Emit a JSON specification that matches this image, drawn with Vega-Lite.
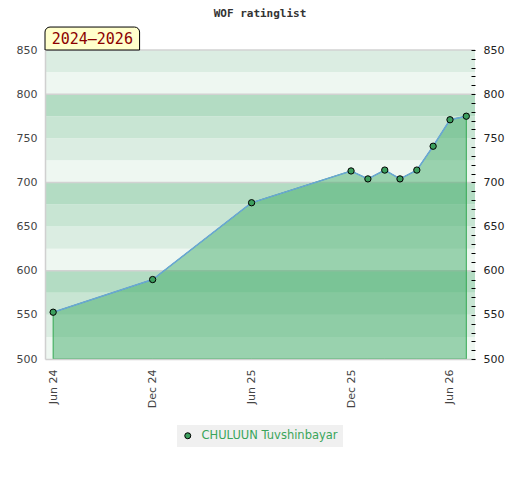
{
  "$schema": "https://vega.github.io/schema/vega-lite/v6.json",
  "width": 430,
  "height": 309,
  "autosize": {"type": "none"},
  "padding": {"left": 45, "top": 50, "right": 45, "bottom": 121},
  "title": {
    "text": "WOF ratinglist",
    "font": "DejaVu Sans Mono",
    "fontSize": 11,
    "fontWeight": "bold",
    "color": "#333333",
    "offset": 8
  },
  "datasets": {
    "ratings": [
      {"date": "2024-06-01", "rating": 553, "player": "CHULUUN Tuvshinbayar"},
      {"date": "2024-12-01", "rating": 590, "player": "CHULUUN Tuvshinbayar"},
      {"date": "2025-06-01", "rating": 677, "player": "CHULUUN Tuvshinbayar"},
      {"date": "2025-12-01", "rating": 713, "player": "CHULUUN Tuvshinbayar"},
      {"date": "2026-01-01", "rating": 704, "player": "CHULUUN Tuvshinbayar"},
      {"date": "2026-02-01", "rating": 714, "player": "CHULUUN Tuvshinbayar"},
      {"date": "2026-03-01", "rating": 704, "player": "CHULUUN Tuvshinbayar"},
      {"date": "2026-04-01", "rating": 714, "player": "CHULUUN Tuvshinbayar"},
      {"date": "2026-05-01", "rating": 741, "player": "CHULUUN Tuvshinbayar"},
      {"date": "2026-06-01", "rating": 771, "player": "CHULUUN Tuvshinbayar"},
      {"date": "2026-07-01", "rating": 775, "player": "CHULUUN Tuvshinbayar"}
    ],
    "bands": [
      {"lo": 500, "hi": 525, "shade": 0},
      {"lo": 525, "hi": 550, "shade": 1},
      {"lo": 550, "hi": 575, "shade": 2},
      {"lo": 575, "hi": 600, "shade": 3},
      {"lo": 600, "hi": 625, "shade": 0},
      {"lo": 625, "hi": 650, "shade": 1},
      {"lo": 650, "hi": 675, "shade": 2},
      {"lo": 675, "hi": 700, "shade": 3},
      {"lo": 700, "hi": 725, "shade": 0},
      {"lo": 725, "hi": 750, "shade": 1},
      {"lo": 750, "hi": 775, "shade": 2},
      {"lo": 775, "hi": 800, "shade": 3},
      {"lo": 800, "hi": 825, "shade": 0},
      {"lo": 825, "hi": 850, "shade": 1}
    ],
    "period": [{"label": "2024–2026"}]
  },
  "layer": [
    {
      "data": {"name": "bands"},
      "mark": {"type": "rect"},
      "encoding": {
        "y": {
          "field": "lo",
          "type": "quantitative",
          "scale": {"domain": [500, 850], "nice": false, "zero": false},
          "axis": {
            "orient": "left",
            "values": [500, 550, 600, 650, 700, 750, 800, 850],
            "ticks": false,
            "grid": false,
            "domainColor": "#d0d0d0",
            "domainWidth": 1.5,
            "labelColor": "#444444",
            "labelFont": "DejaVu Sans",
            "labelFontSize": 11,
            "labelPadding": 8,
            "title": null,
            "zindex": 1
          }
        },
        "y2": {"field": "hi"},
        "fill": {
          "field": "shade",
          "type": "ordinal",
          "scale": {"domain": [0, 1, 2, 3], "range": ["#eef7f1", "#dbede2", "#c8e5d3", "#b3dcc3"]},
          "legend": null
        }
      }
    },
    {
      "data": {"name": "bands"},
      "transform": [{"filter": "datum.hi % 100 == 0 || datum.hi == 850"}],
      "mark": {"type": "rule", "color": "#d2d2d2", "strokeWidth": 1.5},
      "encoding": {
        "y": {"field": "hi", "type": "quantitative", "axis": null}
      }
    },
    {
      "data": {"name": "ratings"},
      "mark": {"type": "area", "fill": "#3daa64", "fillOpacity": 0.48, "stroke": "#33a852", "strokeWidth": 1},
      "encoding": {
        "x": {
          "field": "date",
          "type": "temporal",
          "scale": {"domain": [{"year": 2024, "month": 5, "date": 17}, {"year": 2026, "month": 7, "date": 17}]},
          "axis": {
            "values": [
              {"year": 2024, "month": 6, "date": 1},
              {"year": 2024, "month": 12, "date": 1},
              {"year": 2025, "month": 6, "date": 1},
              {"year": 2025, "month": 12, "date": 1},
              {"year": 2026, "month": 6, "date": 1}
            ],
            "format": "%b %y",
            "labelAngle": -90,
            "ticks": false,
            "grid": false,
            "domainColor": "#d0d0d0",
            "domainWidth": 1.5,
            "labelColor": "#444444",
            "labelFont": "DejaVu Sans",
            "labelFontSize": 11,
            "labelPadding": 10,
            "title": null,
            "zindex": 1
          }
        },
        "y": {"field": "rating", "type": "quantitative", "axis": null},
        "y2": {"datum": 500}
      }
    },
    {
      "data": {"name": "ratings"},
      "mark": {"type": "line", "color": "#6aa6d6", "strokeWidth": 1.5},
      "encoding": {
        "x": {"field": "date", "type": "temporal"},
        "y": {"field": "rating", "type": "quantitative", "axis": null}
      }
    },
    {
      "data": {"name": "ratings"},
      "mark": {"type": "point", "filled": true, "size": 40, "stroke": "#000000", "strokeWidth": 1, "opacity": 1},
      "encoding": {
        "x": {"field": "date", "type": "temporal"},
        "y": {
          "field": "rating",
          "type": "quantitative",
          "axis": {
            "orient": "right",
            "values": [500, 510, 520, 530, 540, 550, 560, 570, 580, 590, 600, 610, 620, 630, 640, 650, 660, 670, 680, 690, 700, 710, 720, 730, 740, 750, 760, 770, 780, 790, 800, 810, 820, 830, 840, 850],
            "labelExpr": "datum.value % 50 == 0 ? datum.label : ''",
            "domain": false,
            "grid": false,
            "tickColor": "#000000",
            "tickSize": 4,
            "offset": -4,
            "labelColor": "#222222",
            "labelFont": "DejaVu Sans",
            "labelFontSize": 11,
            "labelPadding": 8,
            "title": null,
            "zindex": 1
          }
        },
        "color": {
          "field": "player",
          "type": "nominal",
          "scale": {"range": ["#3c9f5e"]},
          "legend": {
            "orient": "none",
            "legendX": 132,
            "legendY": 375,
            "title": null,
            "fillColor": "#f0f0f0",
            "padding": 5,
            "labelColor": "#3aa55a",
            "labelFont": "DejaVu Sans",
            "labelFontSize": 11.5,
            "labelOffset": 8,
            "symbolType": "circle",
            "symbolSize": 36,
            "symbolStrokeColor": "#000000",
            "symbolStrokeWidth": 1
          }
        }
      }
    },
    {
      "data": {"name": "period"},
      "mark": {"type": "rect", "fill": "#ffffcc", "stroke": "#000000", "strokeWidth": 1, "cornerRadiusTopLeft": 5, "cornerRadiusTopRight": 5},
      "encoding": {
        "x": {"datum": {"year": 2024, "month": 5, "date": 17}, "type": "temporal"},
        "x2": {"datum": {"year": 2024, "month": 11, "date": 7}},
        "y": {"datum": 850, "type": "quantitative", "axis": null},
        "y2": {"datum": 876}
      }
    },
    {
      "data": {"name": "period"},
      "mark": {"type": "text", "font": "DejaVu Sans Mono", "fontSize": 15, "color": "#8b0000", "baseline": "middle", "align": "center"},
      "encoding": {
        "text": {"field": "label"},
        "x": {"datum": {"year": 2024, "month": 8, "date": 12}, "type": "temporal"},
        "y": {"datum": 863, "type": "quantitative", "axis": null}
      }
    }
  ],
  "resolve": {"axis": {"y": "independent"}},
  "config": {"view": {"stroke": null}}
}
